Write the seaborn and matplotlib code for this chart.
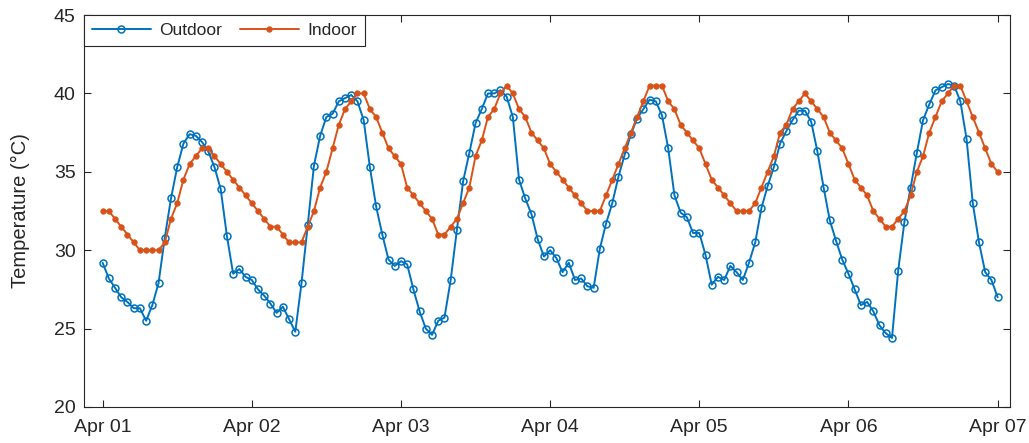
import numpy as np
import pandas as pd
import matplotlib
matplotlib.use("Agg")
import matplotlib.pyplot as plt
import matplotlib.dates as mdates
import seaborn as sns

outdoor = [29.2, 28.2, 27.6, 27.0, 26.7, 26.3, 26.3, 25.5, 26.5, 27.9, 30.8, 33.3,
           35.3, 36.8, 37.4, 37.3, 36.9, 36.3, 35.3, 33.9, 30.9, 28.5, 28.8, 28.3,
           28.1, 27.5, 27.1, 26.6, 26.0, 26.4, 25.6, 24.8, 27.9, 31.6, 35.4, 37.3,
           38.5, 38.7, 39.5, 39.7, 39.9, 39.5, 38.3, 35.3, 32.8, 31.0, 29.4, 29.0,
           29.3, 29.1, 27.5, 26.1, 25.0, 24.6, 25.5, 25.7, 28.1, 31.3, 34.4, 36.2,
           38.1, 39.0, 40.0, 40.0, 40.2, 39.8, 38.5, 34.5, 33.3, 32.3, 30.7, 29.6,
           30.0, 29.5, 28.6, 29.2, 28.1, 28.2, 27.7, 27.6, 30.1, 31.7, 33.0, 34.7,
           36.1, 37.4, 38.4, 39.0, 39.6, 39.5, 38.6, 36.5, 33.5, 32.4, 32.1, 31.1,
           31.1, 29.7, 27.8, 28.3, 28.1, 29.0, 28.6, 28.1, 29.2, 30.5, 32.7, 34.1,
           35.3, 36.8, 37.6, 38.3, 38.9, 38.9, 38.2, 36.3, 34.0, 31.9, 30.6, 29.4,
           28.5, 27.5, 26.5, 26.7, 26.1, 25.2, 24.7, 24.4, 28.7, 31.8, 34.0, 36.2,
           38.3, 39.3, 40.2, 40.4, 40.6, 40.5, 39.5, 37.1, 33.0, 30.5, 28.6, 28.1,
           27.0]

indoor = [32.5, 32.5, 32.0, 31.5, 31.0, 30.5, 30.0, 30.0, 30.0, 30.0, 30.5, 32.0,
          33.0, 34.5, 35.5, 36.0, 36.5, 36.5, 36.0, 35.5, 35.0, 34.5, 34.0, 33.5,
          33.0, 32.5, 32.0, 31.5, 31.5, 31.0, 30.5, 30.5, 30.5, 31.5, 32.5, 34.0,
          35.0, 36.5, 38.0, 39.0, 39.5, 40.0, 40.0, 39.0, 38.5, 37.5, 36.5, 36.0,
          35.5, 34.0, 33.5, 33.0, 32.5, 32.0, 31.0, 31.0, 31.5, 32.0, 33.0, 34.0,
          36.0, 37.0, 38.5, 39.0, 40.0, 40.5, 40.0, 39.0, 38.5, 37.5, 37.0, 36.5,
          35.5, 35.0, 34.5, 34.0, 33.5, 33.0, 32.5, 32.5, 32.5, 33.5, 34.5, 35.5,
          36.5, 37.5, 38.5, 39.5, 40.5, 40.5, 40.5, 39.5, 39.0, 38.0, 37.5, 37.0,
          36.5, 35.5, 34.5, 34.0, 33.5, 33.0, 32.5, 32.5, 32.5, 33.0, 34.0, 35.0,
          36.0, 37.5, 38.0, 39.0, 39.5, 40.0, 39.5, 39.0, 38.5, 37.5, 37.0, 36.5,
          35.5, 34.5, 34.0, 33.5, 32.5, 32.0, 31.5, 31.5, 32.0, 32.5, 33.5, 35.0,
          36.0, 37.5, 38.5, 39.5, 40.0, 40.5, 40.5, 39.5, 38.5, 37.5, 36.5, 35.5,
          35.0]

start = "2024-04-01 00:00"
times = pd.date_range(start, periods=len(outdoor), freq="h")
df = pd.DataFrame({"time": times, "Outdoor": outdoor, "Indoor": indoor})

sns.set_theme(style="white")
plt.rcParams["font.family"] = ["Liberation Sans", "DejaVu Sans"]

c_out = "#0072BD"
c_in = "#D95319"
axc = "#262626"

fig = plt.figure(figsize=(10.29, 4.43), dpi=100)
ax = fig.add_axes([0.0816, 0.0813, 0.9000, 0.8847])

sns.lineplot(data=df, x="time", y="Outdoor", ax=ax, color=c_out, lw=1.4,
             marker="o", markersize=5.0, markerfacecolor="none",
             markeredgecolor=c_out, markeredgewidth=1.1, label="Outdoor")
sns.lineplot(data=df, x="time", y="Indoor", ax=ax, color=c_in, lw=1.4,
             marker="o", markersize=4.0, markerfacecolor=c_in,
             markeredgecolor=c_in, markeredgewidth=0.5, label="Indoor")

ax.set_ylim(20, 45)
ax.set_yticks([20, 25, 30, 35, 40, 45])
ax.set_xlim(times[0] - pd.Timedelta(hours=3), times[-1] + pd.Timedelta(hours=2))
ax.xaxis.set_major_locator(mdates.DayLocator())
ax.xaxis.set_major_formatter(mdates.DateFormatter("%b %d"))
ax.set_xlabel("")
ax.set_ylabel("Temperature (°C)", fontsize=14.5, color=axc, labelpad=17)

for s in ax.spines.values():
    s.set_visible(True)
    s.set_color(axc)
    s.set_linewidth(0.8)
ax.tick_params(axis="both", direction="in", length=5, width=0.8, colors=axc,
               labelsize=14, top=True, right=True, bottom=True, left=True)
ax.tick_params(axis="x", pad=9)
ax.tick_params(axis="y", pad=6)

leg = ax.legend(loc="upper left", bbox_to_anchor=(0, 1), borderaxespad=0,
                ncol=2, fancybox=False, framealpha=1, edgecolor=axc,
                fontsize=12.5, handlelength=3.4, columnspacing=1.0,
                handletextpad=0.5, borderpad=0.45)
leg.get_frame().set_linewidth(0.8)

fig.savefig("out.png", dpi=100)
